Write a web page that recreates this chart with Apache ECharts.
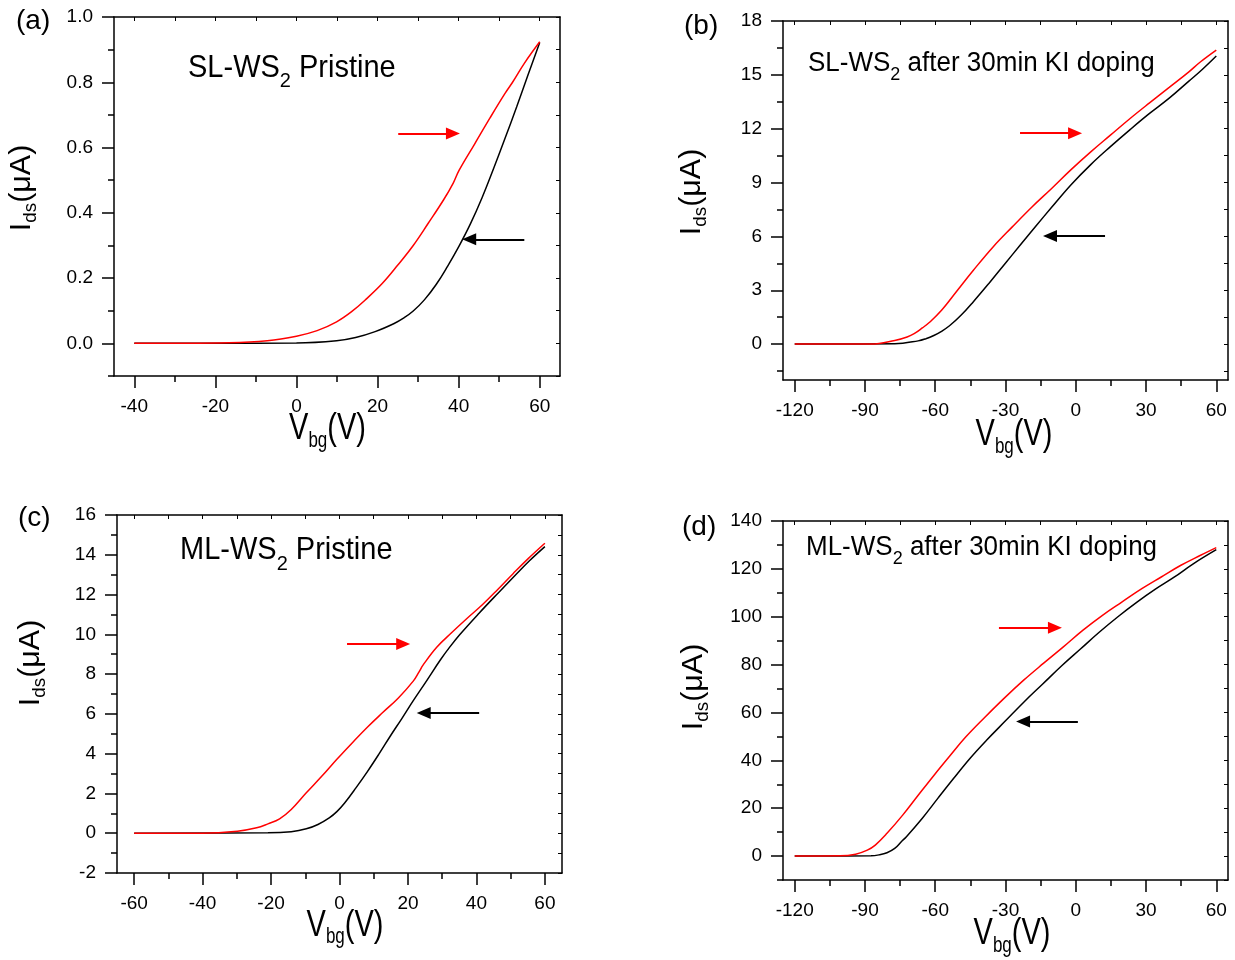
<!DOCTYPE html>
<html>
<head>
<meta charset="utf-8">
<script src="https://cdn.jsdelivr.net/npm/echarts@6/dist/echarts.min.js"></script>
<style>
html,body{margin:0;padding:0;background:#ffffff;}
#chart{width:1235px;height:960px;}
</style>
</head>
<body>
<div id="chart"></div>
<script>
// ---------------- DATA ----------------
// (a) SL-WS2 Pristine
const aFwdV = [-40,-16.6,-7.2,0,5.1,9.9,13.6,17.4,21.2,25,28.8,32.5,36.3,38.7,40.1,43.9,47.7,51.4,53.3,56.2,60];
const aFwdI = [0,0.002,0.008,0.022,0.039,0.066,0.097,0.138,0.184,0.24,0.30,0.368,0.44,0.492,0.53,0.61,0.69,0.765,0.80,0.858,0.924];
const aBwdV = [-40,-20,0,9.9,14.6,19.4,24.1,26.5,28.8,31.6,34.5,37.3,40.1,42.9,45.8,48.6,51.4,54.3,57.1,60];
const aBwdI = [0,0,0.001,0.008,0.018,0.036,0.061,0.078,0.099,0.134,0.181,0.237,0.298,0.366,0.447,0.535,0.627,0.724,0.822,0.922];

// (b) SL-WS2 after 30min KI doping
const bFwdV = [-120,-87.4,-77.3,-72,-69,-65.5,-62.3,-57.3,-50.5,-43.8,-35.4,-27.1,-18.7,-10.3,-2,6.4,14.8,23.2,31.5,39.9,48.3,53.3,60];
const bFwdI = [0,0,0.2,0.4,0.58,0.9,1.23,1.88,3.0,4.1,5.4,6.53,7.64,8.67,9.72,10.71,11.64,12.57,13.44,14.3,15.17,15.73,16.38];
const bBwdV = [-120,-77.3,-67.3,-64,-60.6,-57.5,-53.9,-48.9,-43.8,-37.1,-30.4,-23.7,-17,-10.3,-2,6.4,14.8,23.2,31.5,39.9,48.3,54,60];
const bBwdI = [0,0.02,0.18,0.3,0.48,0.7,1.02,1.62,2.35,3.38,4.45,5.52,6.58,7.62,8.88,10.0,11.0,11.95,12.85,13.7,14.65,15.3,16.05];

// (c) ML-WS2 Pristine
const cFwdV = [-60,-40,-29.8,-24.2,-20.9,-17.5,-14.1,-9.7,-5.2,-0.7,3.7,8.2,12.7,17.2,21.6,23.2,24.4,28.4,32.8,37.3,41.8,46.3,50.7,55.2,60];
const cFwdI = [0,0,0.1,0.27,0.47,0.72,1.19,2.03,2.86,3.73,4.54,5.34,6.08,6.8,7.66,8.1,8.45,9.35,10.09,10.81,11.5,12.27,13.05,13.82,14.58];
const cBwdV = [-60,-20.9,-14.1,-9.7,-6.3,-3,-0.7,1.5,4.8,8.2,11.6,14.9,18.3,21.6,25,29.5,32.3,35.1,40.7,46.3,51.9,55.5,60];
const cBwdI = [0,0.02,0.08,0.22,0.44,0.77,1.1,1.52,2.28,3.11,4.0,4.9,5.79,6.68,7.55,8.72,9.38,9.98,11.05,12.07,13.07,13.7,14.41];

// (d) ML-WS2 after 30min KI doping
const dFwdV = [-120,-100.7,-94,-89,-85.6,-80.6,-73.9,-67.2,-60.5,-53.8,-47.1,-38.8,-30.4,-22,-13.7,-5.3,3.1,11.4,19.8,28.2,36.5,44.9,53.3,60];
const dFwdI = [0,0.1,0.8,2.5,4.6,9.5,17.1,25.5,33.8,41.8,49.6,58.0,66.1,73.7,80.6,87.4,94.4,100.6,106.2,111.7,116.6,121.5,125.7,128.9];
const dBwdV = [-120,-87.4,-84,-80.6,-77.3,-74.5,-72.3,-65.6,-58.9,-52.2,-45,-38,-30,-22,-14,-6,2,10,18,26,34,42,50,60];
const dBwdI = [0,0.1,0.5,1.4,3.2,6.0,8.1,15.7,24.1,32.4,41,48.5,56.5,64.5,72,79.5,86.5,93.5,100,106,111.5,116.5,122,128];

// Tick values (labels)
const aXMajor = [-40,-20,0,20,40,60];      const aXMinor = [-30,-10,10,30,50];
const aYMajor = [0,0.2,0.4,0.6,0.8,1.0];   const aYMinor = [-0.1,0.1,0.3,0.5,0.7,0.9];
const bXMajor = [-120,-90,-60,-30,0,30,60]; const bXMinor = [-105,-75,-45,-15,15,45];
const bYMajor = [0,3,6,9,12,15,18];         const bYMinor = [-1.5,1.5,4.5,7.5,10.5,13.5,16.5];
const cXMajor = [-60,-40,-20,0,20,40,60];   const cXMinor = [-50,-30,-10,10,30,50];
const cYMajor = [-2,0,2,4,6,8,10,12,14,16]; const cYMinor = [-1,1,3,5,7,9,11,13,15];
const dXMajor = [-120,-90,-60,-30,0,30,60]; const dXMinor = [-105,-75,-45,-15,15,45];
const dYMajor = [0,20,40,60,80,100,120,140]; const dYMinor = [-10,10,30,50,70,90,110,130];

// Sweep-direction arrows: [xStart, xEnd, y] in data units
const aRedArrow = [25.1, 38.6, 0.643];   const aBlackArrow = [56.2, 42.6, 0.319];
const bRedArrow = [-23.8, -0.3, 11.75];  const bBlackArrow = [12.5, -11.0, 6.02];
const cRedArrow = [2.2, 18.6, 9.51];     const cBlackArrow = [40.8, 24.6, 6.04];
const dRedArrow = [-32.8, -8.9, 95.4];   const dBlackArrow = [0.9, -22.5, 56.25];

// Texts
const panelLetters = ['(a)','(b)','(c)','(d)'];
const sampleMain = [['SL-WS',' Pristine'],['SL-WS',' after 30min KI doping'],['ML-WS',' Pristine'],['ML-WS',' after 30min KI doping']];

// ---------------- CHART ----------------
const FONT = "'Liberation Sans', Arial, Helvetica, sans-serif";
const BLACK = '#000000', RED = '#ff0000';
const zip = (xs, ys) => xs.map((x, i) => [x, ys[i]]);

const panels = [
  { grid:{left:114, top:17, width:446, height:359}, xr:[-45,65], yr:[-0.1,1.0],
    xMaj:aXMajor, xMin:aXMinor, yMaj:aYMajor, yMin:aYMinor, yFmt:v=>v.toFixed(1),
    fwd:zip(aFwdV,aFwdI), bwd:zip(aBwdV,aBwdI), ra:aRedArrow, ba:aBlackArrow,
    letter:[16,21], ann:[188,68.5,29], xt:[327.5,429], yt:[22,188] },
  { grid:{left:783, top:21, width:445, height:359}, xr:[-125,65], yr:[-2,18],
    xMaj:bXMajor, xMin:bXMinor, yMaj:bYMajor, yMin:bYMinor, yFmt:v=>String(v),
    fwd:zip(bFwdV,bFwdI), bwd:zip(bBwdV,bBwdI), ra:bRedArrow, ba:bBlackArrow,
    letter:[684,26], ann:[808,63,26], xt:[1014,435], yt:[692,192] },
  { grid:{left:117, top:515, width:445, height:358}, xr:[-65,65], yr:[-2,16],
    xMaj:cXMajor, xMin:cXMinor, yMaj:cYMajor, yMin:cYMinor, yFmt:v=>String(v),
    fwd:zip(cFwdV,cFwdI), bwd:zip(cBwdV,cBwdI), ra:cRedArrow, ba:cBlackArrow,
    letter:[18,518], ann:[180,551,29], xt:[345,925.5], yt:[31,663] },
  { grid:{left:783, top:521, width:445, height:359}, xr:[-125,65], yr:[-10,140],
    xMaj:dXMajor, xMin:dXMinor, yMaj:dYMajor, yMin:dYMinor, yFmt:v=>String(v),
    fwd:zip(dFwdV,dFwdI), bwd:zip(dBwdV,dBwdI), ra:dRedArrow, ba:dBlackArrow,
    letter:[682,527], ann:[806,547,26], xt:[1012,934], yt:[694,687] }
];

const axisLineStyle = {color:BLACK, width:1.5};
const labelStyle = {color:BLACK, fontSize:19, fontFamily:FONT};

const grids = [], xAxes = [], yAxes = [], series = [], graphics = [];

panels.forEach((p, i) => {
  grids.push(Object.assign({}, p.grid));
  const allX = p.xMaj.concat(p.xMin), allY = p.yMaj.concat(p.yMin);
  const common = {type:'value', gridIndex:i, splitLine:{show:false}};
  // X axes: main bottom, minor-tick bottom, top frame
  xAxes.push(Object.assign({}, common, {min:p.xr[0], max:p.xr[1], position:'bottom',
    axisLine:{show:true, onZero:false, lineStyle:axisLineStyle},
    axisTick:{show:true, customValues:p.xMaj, length:12, lineStyle:axisLineStyle},
    axisLabel:{show:true, customValues:p.xMaj, margin:21, ...labelStyle}}));
  xAxes.push(Object.assign({}, common, {min:p.xr[0], max:p.xr[1], position:'bottom',
    axisLine:{show:false, onZero:false},
    axisTick:{show:true, customValues:p.xMin, length:6, lineStyle:axisLineStyle},
    axisLabel:{show:false}}));
  xAxes.push(Object.assign({}, common, {min:p.xr[0], max:p.xr[1], position:'top',
    axisLine:{show:true, onZero:false, lineStyle:axisLineStyle},
    axisTick:{show:true, inside:true, customValues:allX, length:4, lineStyle:{color:BLACK, width:1}},
    axisLabel:{show:false}}));
  // Y axes
  yAxes.push(Object.assign({}, common, {min:p.yr[0], max:p.yr[1], position:'left',
    axisLine:{show:true, onZero:false, lineStyle:axisLineStyle},
    axisTick:{show:true, customValues:p.yMaj, length:12, lineStyle:axisLineStyle},
    axisLabel:{show:true, customValues:p.yMaj, margin:21, formatter:p.yFmt, ...labelStyle}}));
  yAxes.push(Object.assign({}, common, {min:p.yr[0], max:p.yr[1], position:'left',
    axisLine:{show:false, onZero:false},
    axisTick:{show:true, customValues:p.yMin, length:6, lineStyle:axisLineStyle},
    axisLabel:{show:false}}));
  yAxes.push(Object.assign({}, common, {min:p.yr[0], max:p.yr[1], position:'right',
    axisLine:{show:true, onZero:false, lineStyle:axisLineStyle},
    axisTick:{show:true, inside:true, customValues:allY, length:4, lineStyle:{color:BLACK, width:1}},
    axisLabel:{show:false}}));

  const mk = (arr, color) => ({
    silent:true, symbol:['none','triangle'], symbolSize:[12,14],
    label:{show:false}, emphasis:{disabled:true},
    lineStyle:{color:color, width:2, type:'solid'},
    itemStyle:{color:color},
    data:[[{coord:[arr[0],arr[2]]},{coord:[arr[1],arr[2]]}]]
  });
  const lineCommon = {type:'line', xAxisIndex:3*i, yAxisIndex:3*i, showSymbol:false, symbol:'none',
    smooth:0.4, animation:false, emphasis:{disabled:true}};
  series.push(Object.assign({}, lineCommon, {name:'backward'+i, data:p.bwd,
    lineStyle:{color:BLACK, width:1.5}, itemStyle:{color:BLACK}, markLine:mk(p.ba, BLACK), z:2}));
  series.push(Object.assign({}, lineCommon, {name:'forward'+i, data:p.fwd,
    lineStyle:{color:RED, width:1.5}, itemStyle:{color:RED}, markLine:mk(p.ra, RED), z:3}));

  // Panel letter
  graphics.push({type:'text', x:p.letter[0], y:p.letter[1], style:{text:panelLetters[i], fill:BLACK,
    fontSize:28, fontFamily:FONT, align:'left', verticalAlign:'middle', textAlign:'left', textVerticalAlign:'middle'}});
  // Sample annotation
  const af = p.ann[2];
  graphics.push({type:'text', x:p.ann[0], y:p.ann[1], scaleY:1.05, style:{
    text:'{m|'+sampleMain[i][0]+'}{s|2}{m|'+sampleMain[i][1]+'}', fill:BLACK,
    align:'left', verticalAlign:'middle', textAlign:'left', textVerticalAlign:'middle',
    rich:{m:{fontSize:af, fontFamily:FONT, fill:BLACK},
          s:{fontSize:Math.round(af*0.7), fontFamily:FONT, fill:BLACK, padding:[Math.round(af*0.85),0,0,0]}}}});
  // X title
  graphics.push({type:'text', x:p.xt[0], y:p.xt[1], scaleY:1.3, style:{
    text:'{m|V}{s|bg}{m|(V)}', fill:BLACK, align:'center', verticalAlign:'middle', textAlign:'center', textVerticalAlign:'middle',
    rich:{m:{fontSize:29, fontFamily:FONT, fill:BLACK}, s:{fontSize:17, fontFamily:FONT, fill:BLACK, padding:[18,0,0,0]}}}});
  // Y title
  graphics.push({type:'text', x:p.yt[0], y:p.yt[1], rotation:Math.PI/2, scaleX:1.05, style:{
    text:'{m|I}{s|ds}{m|(\u03bcA)}', fill:BLACK, align:'center', verticalAlign:'middle', textAlign:'center', textVerticalAlign:'middle',
    rich:{m:{fontSize:29, fontFamily:FONT, fill:BLACK}, s:{fontSize:18, fontFamily:FONT, fill:BLACK, padding:[18,0,0,0]}}}});
});

const chart = echarts.init(document.getElementById('chart'), null, {renderer:'canvas'});
chart.setOption({
  animation:false,
  backgroundColor:'#ffffff',
  textStyle:{fontFamily:FONT},
  grid:grids, xAxis:xAxes, yAxis:yAxes, series:series, graphic:graphics
});
</script>
</body>
</html>
